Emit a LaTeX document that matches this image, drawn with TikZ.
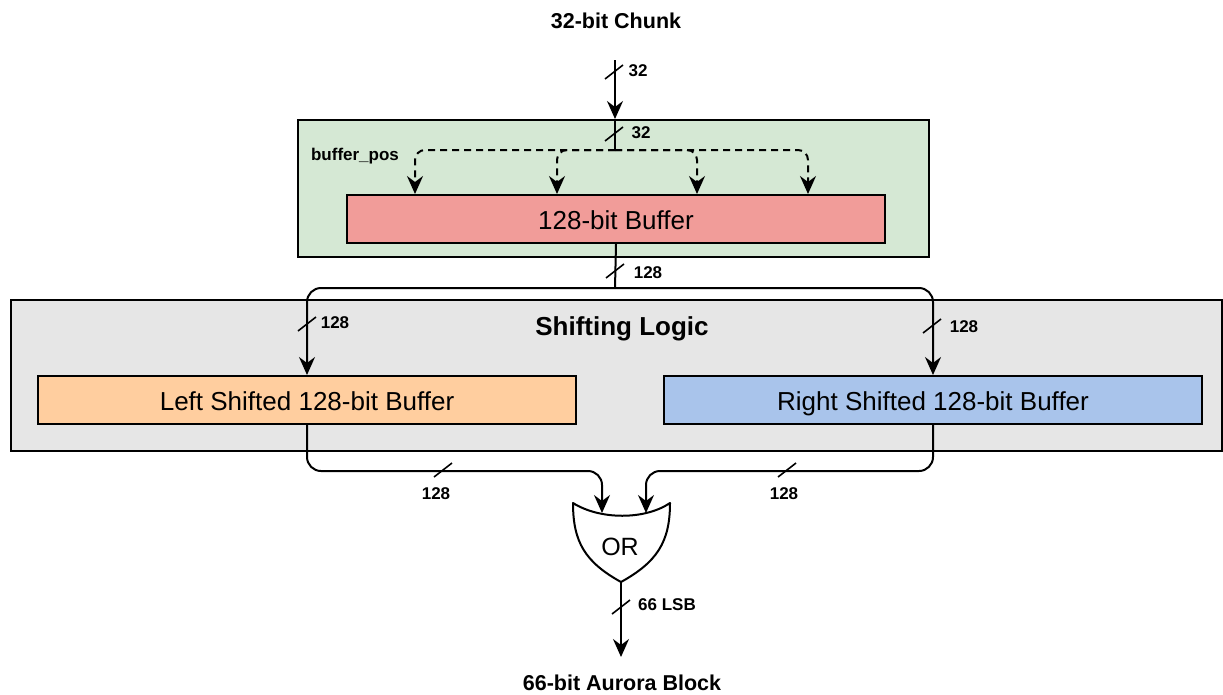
\documentclass[tikz,border=0pt]{standalone}
\usepackage{fontspec}
\setmainfont{Liberation Sans}
\usetikzlibrary{arrows.meta,calc}
\definecolor{grnfill}{HTML}{D5E8D4}
\definecolor{redfill}{HTML}{F19C99}
\definecolor{orgfill}{HTML}{FFCE9F}
\definecolor{blufill}{HTML}{A9C4EB}
\definecolor{gryfill}{HTML}{E6E6E6}
\begin{document}
\begin{tikzpicture}[x=1pt,y=-1pt,
  wire/.style={line width=2pt},
  arr/.style={wire,-{Stealth[length=18pt,width=16pt,inset=6pt]}},
  darr/.style={arr,dash pattern=on 7pt off 5pt},
  region/.style={draw,line width=2pt,inner sep=0pt,anchor=north west},
  blk/.style={region,minimum height=48pt,minimum width=538pt,font=\fontsize{26}{30}\selectfont,
    text height=20pt,text depth=0pt},
  ttl/.style={font=\fontsize{21.5}{25}\selectfont\bfseries},
  lbl/.style={font=\fontsize{17}{20}\selectfont\bfseries,inner sep=0pt},
  busmark/.pic={\draw[line width=1.6pt] (-9,7) -- (9,-7);}
]
\path[fill=white,use as bounding box] (0,0) rectangle (1223,694);

% container regions
\node[region,fill=gryfill,minimum width=1211pt,minimum height=151pt] (shift) at (10,299) {};
\node[font=\fontsize{26}{30}\selectfont\bfseries] (shiftlbl) at (622,329) {Shifting Logic};
\node[region,fill=grnfill,minimum width=631pt,minimum height=137pt] (green) at (297,119) {};

% blocks
\node[blk,fill=redfill] (buf) at (346,194) {128-bit Buffer};
\node[blk,fill=orgfill] (left) at (37,375) {Left Shifted 128-bit Buffer};
\node[blk,fill=blufill] (right) at (663,375) {Right Shifted 128-bit Buffer};

% titles
\node[ttl] (chunk) at (616,21) {32-bit Chunk};
\node[ttl] (aurora) at (622,683) {66-bit Aurora Block};

% OR gate
\draw[line width=2pt,fill=white,line join=round]
  (573,503) .. controls (600,520) and (645,520) .. (670,503)
  .. controls (670,542) and (657,562) .. (621,582)
  .. controls (585,562) and (573,542) .. (573,503) -- cycle;
\node[font=\fontsize{25}{30}\selectfont] (orgate) at (620,547) {OR};
\coordinate (orinL) at (602,513);
\coordinate (orinR) at (646,513);
\coordinate (orout) at (621,582);

% helper coordinates
\coordinate (inStart) at (615,60);
\coordinate (fan) at (615,150);
\coordinate (split) at (615,288);
\coordinate (lowbus) at (0,471);
\coordinate (outEnd) at (621,657);

% input chunk
\draw[arr] (inStart) -- (inStart |- green.north);
\draw[wire] (inStart |- green.north) -- (fan);
\foreach \x/\n in {415/a,557/b,697/c,808/d}{
  \coordinate (pos\n) at (\x,0);
  \draw[darr,rounded corners=10pt] (fan) -| (pos\n |- buf.north);
}

% buffer to shifters
\draw[wire] (buf.south) -- (split);
\draw[arr,rounded corners=14pt] (split) -| (left.north);
\draw[arr,rounded corners=14pt] (split) -| (right.north);

% shifters to OR gate
\draw[arr,rounded corners=14pt] (left.south) |- (orinL |- lowbus) -- (orinL);
\draw[arr,rounded corners=14pt] (right.south) |- (orinR |- lowbus) -- (orinR);

% output
\draw[arr] (orout) -- (outEnd);

% bus width marks
\pic at (614,72) {busmark};
\pic at (614,134) {busmark};
\pic at (615,271) {busmark};
\pic at (307,324) {busmark};
\pic at (932,326) {busmark};
\pic at (443,470) {busmark};
\pic at (787,470) {busmark};
\pic at (621,607) {busmark};

% bus width labels
\node[lbl] (w1) at (638,71) {32};
\node[lbl] (w2) at (641,133) {32};
\node[lbl] (w3) at (648,273) {128};
\node[lbl] (w4) at (335,323) {128};
\node[lbl] (w5) at (964,327) {128};
\node[lbl] (w6) at (436,494) {128};
\node[lbl] (w7) at (784,494) {128};
\node[lbl] (w8) at (667,605) {66 LSB};
\node[lbl] (bp) at (355,156) {buffer\_pos};
\end{tikzpicture}
\end{document}
